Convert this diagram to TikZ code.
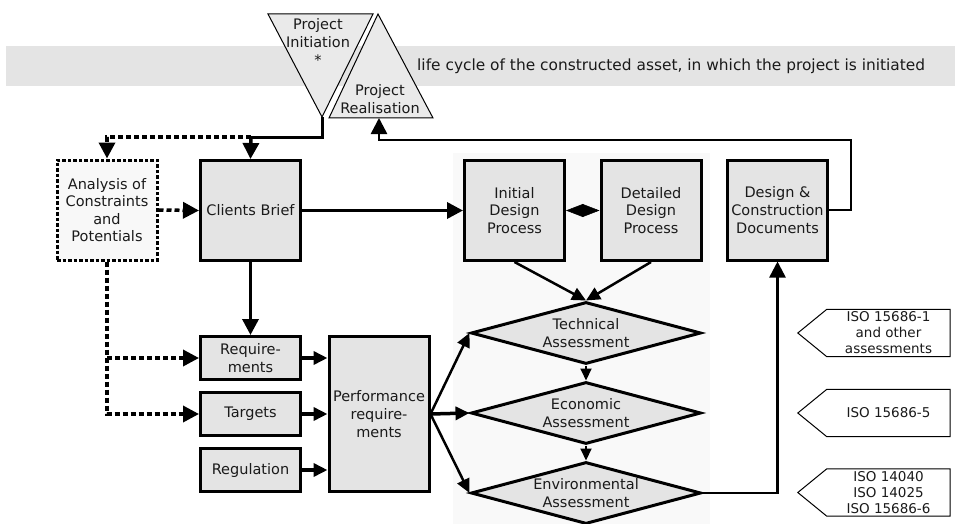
\documentclass[tikz,border=0pt]{standalone}
\usepackage{fontspec}
\setmainfont{DejaVu Sans}
\usetikzlibrary{arrows.meta,shapes.geometric,calc}
\definecolor{bandgray}{RGB}{228,228,228}
\definecolor{boxgray}{RGB}{228,228,228}
\definecolor{trigray}{RGB}{234,234,234}
\definecolor{panelgray}{RGB}{249,249,249}
\definecolor{anafill}{RGB}{248,248,248}
\definecolor{ink}{RGB}{26,26,26}
\begin{document}
\begin{tikzpicture}[x=1pt,y=-1pt,
  font=\fontsize{14.5}{17.6}\selectfont, text=ink,
  box/.style={draw=black, fill=boxgray, line width=3pt, align=center,
    inner sep=0pt, minimum width=100pt, minimum height=100pt},
  smallbox/.style={box, minimum height=43pt},
  anabox/.style={box, fill=anafill, dash pattern=on 3.5pt off 2pt},
  diam/.style={diamond, draw=black, fill=boxgray, line width=3pt,
    minimum width=230pt, minimum height=62pt, inner sep=0pt,
    shape aspect=3.6, align=center},
  tri/.style={draw=black, fill=trigray, line width=1pt, line join=miter},
  tagtext/.style={inner sep=0pt, minimum width=123pt, minimum height=47pt,
    align=center, font=\fontsize{13.5}{16}\selectfont},
  tagline/.style={draw=black, fill=white, line width=1pt},
  tipbig/.style={-{Triangle[length=16pt,width=16pt]}},
  tipmid/.style={-{Triangle[length=14pt,width=13pt]}},
  tipsmall/.style={-{Triangle[length=12pt,width=11pt]}},
  arr/.style={line width=3.5pt, tipbig},
  farr/.style={line width=2.5pt, tipbig},
  darr/.style={line width=2.5pt, tipmid},
  dotline/.style={line width=3.5pt, dash pattern=on 5pt off 3pt},
  dotarr/.style={dotline, tipbig},
]
\useasboundingbox (0,0) rectangle (955,524);

% life cycle band
\fill[bandgray] (6,46) rectangle (955,86);
\node[anchor=west, inner sep=0pt, font=\fontsize{15.4}{18}\selectfont] (lifecycle) at (417,66)
  {life cycle of the constructed asset, in which the project is initiated};

% project initiation / realisation triangles
\draw[tri] (268,14) -- (373,14) -- (322,117) -- cycle;
\coordinate (initApex) at (322,117);
\node[align=center, inner sep=0pt] (initText) at (318,42) {Project\\Initiation\\*};
\draw[tri] (378,14) -- (433,118) -- (329,118) -- cycle;
\coordinate (realBase) at (379,118);
\node[align=center, inner sep=0pt] (realText) at (380,99) {Project\\Realisation};

% background panel of the design and assessment steps
\fill[panelgray] (453,153) rectangle (710,524);

% process boxes
\node[anabox] (ana) at (107,210) {Analysis of\\Constraints\\and\\Potentials};
\node[box] (cb) at (250.5,210.5) {Clients Brief};
\node[box] (ini) at (514.5,210.5) {Initial\\Design\\Process};
\node[box] (det) at (651,210.5) {Detailed\\Design\\Process};
\node[box] (dc) at (777.5,210) {Design \&\\Construction\\Documents};

\node[smallbox] (req) at (250.5,358) {Require-\\ments};
\node[smallbox] (tgt) at (250.5,414) {Targets};
\node[smallbox] (reg) at (250.5,470) {Regulation};
\node[box, minimum height=155pt] (perf) at (379,414) {Performance\\require-\\ments};

% assessments
\node[diam] (tech) at (586,333) {Technical\\Assessment};
\node[diam] (econ) at (586,413) {Economic\\Assessment};
\node[diam] (env) at (586,493) {Environmental\\Assessment};

% standards tags: pentagons pointing at the assessments
\node[tagtext] (iso1) at (888.5,333) {};
\node[tagtext] (iso5) at (888.5,413) {};
\node[tagtext] (iso6) at (888.5,492.5) {};
\foreach \t in {iso1,iso5,iso6}{
  \draw[tagline] (\t.north west) -- (\t.north east) -- (\t.south east)
    -- (\t.south west) -- ($(\t.west)+(-29,0)$) -- cycle;
}
\node[tagtext] (iso1t) at (iso1) {ISO 15686-1\\and other\\assessments};
\node[tagtext] (iso5t) at (iso5) {ISO 15686-5};
\node[tagtext] (iso6t) at (iso6) {ISO 14040\\ISO 14025\\ISO 15686-6};

% connectors from project initiation
\coordinate (split) at (251,137);
\draw[line width=3pt] (initApex) |- (split);
\draw[arr] (split) -- (cb.north);
\draw[dotarr] (split) -| (ana.north);

% brief and design flow
\draw[dotarr] (ana.east) -- (cb.west);
\draw[arr] (cb.east) -- (ini.west);
\draw[line width=0.5pt, {Triangle[length=17pt,width=13pt]}-{Triangle[length=17pt,width=13pt]}]
  (ini.east) -- (det.west);

% feedback to project realisation
\coordinate (fbR) at (851,140);
\coordinate (fbL) at (379,140);
\draw[farr] (dc.east) -| (fbR) -- (fbL) -- (realBase);

% requirements
\draw[arr] (cb.south) -- (req.north);
\draw[dotarr] (ana.south) |- (tgt.west);
\draw[dotarr] (ana.south |- req.west) -- (req.west);
\draw[line width=3.5pt, tipmid] (req.east) -- (perf.west |- req.east);
\draw[line width=3.5pt, tipmid] (tgt.east) -- (perf.west |- tgt.east);
\draw[line width=3.5pt, tipmid] (reg.east) -- (perf.west |- reg.east);

% performance requirements to the assessments
\draw[darr] (perf.east) -- (tech.west);
\draw[line width=3.5pt, tipmid] (perf.east) -- (econ.west);
\draw[darr] (perf.east) -- (env.west);

% design to technical assessment
\draw[darr] (ini.south) -- (tech.north);
\draw[darr] (det.south) -- (tech.north);

% assessment chain
\draw[line width=2pt, tipsmall] (tech.south) -- (econ.north);
\draw[line width=2pt, tipsmall] (econ.south) -- (env.north);

% results into documents
\draw[farr] (env.east) -| (dc.south);
\end{tikzpicture}
\end{document}
